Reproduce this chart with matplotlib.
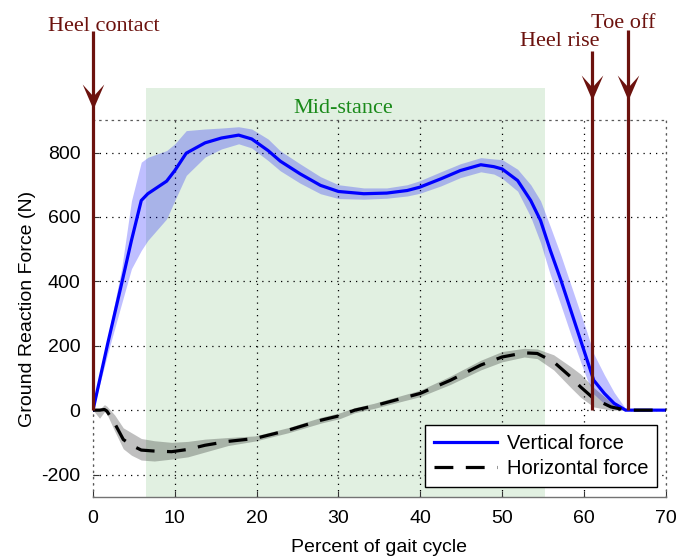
import matplotlib.pyplot as plt
from matplotlib.path import Path
from matplotlib.patches import Rectangle
from matplotlib.lines import Line2D

# --- Data ---
vert_x = [0, 1.8, 3.5, 4.7, 5.9, 6.7, 9.0, 10.0, 11.4, 13.7, 15.7, 17.8, 19.4, 21.4,
          22.9, 25.3, 27.8, 30.0, 33.1, 35.9, 38.4, 39.9, 42.5, 44.9, 47.4, 49.0,
          50.0, 51.9, 53.5, 54.7, 55.9, 57.2, 58.4, 59.6, 60.4, 61.2, 62.5, 63.7, 65.1, 70]
vert_mean = [0, 207, 393, 527, 651, 672, 711, 744, 798, 830, 845, 854, 842, 806,
             773, 734, 698, 679, 672, 674, 682, 692, 718, 744, 762, 756,
             749, 713, 651, 589, 496, 403, 310, 217, 155, 93, 52, 21, 0, 0]
vert_upper = [0, 225, 440, 650, 770, 785, 806, 827, 868, 873, 876, 880, 873, 842,
              805, 765, 725, 700, 690, 690, 700, 712, 740, 765, 784, 780,
              778, 748, 700, 650, 570, 480, 390, 300, 240, 175, 110, 55, 5, 0]
vert_lower = [0, 176, 331, 439, 496, 527, 594, 651, 729, 786, 811, 827, 814, 775,
              743, 705, 672, 657, 655, 658, 665, 673, 696, 722, 740, 733,
              720, 680, 600, 520, 420, 325, 235, 150, 95, 50, 20, 5, 0, 0]

horiz_x = [0, 0.8, 1.4, 1.7, 2.65, 3.7, 4.7, 5.9, 7.5, 9.6, 11.6, 13.7, 16.5, 19.8,
           23.9, 27.9, 30.2, 32.0, 34.3, 40.0, 43.7, 47.4, 50.0, 52.7, 54.3, 56.3,
           58.4, 59.6, 61.2, 63.3, 65.2, 70]
horiz_mean = [0, 0, 2, -3, -41, -91, -109, -124, -127, -129, -122, -109, -97, -88,
              -62, -31, -17, 0, 13, 52, 93, 140, 165, 178, 176, 150,
              103, 72, 36, 10, 0, 0]
horiz_upper = [0, 3, 17, 12, -15, -55, -70, -88, -95, -100, -97, -90, -85, -80,
               -54, -22, -8, 8, 21, 62, 106, 155, 182, 192, 190, 172,
               135, 112, 70, 25, 0, 0]
horiz_lower = [0, -25, -5, -12, -65, -120, -140, -155, -158, -152, -145, -130, -110, -96,
               -70, -40, -26, -8, 5, 42, 80, 125, 150, 165, 160, 125,
               70, 40, 10, 0, 0, 0]

event_names = ['Heel contact', 'Heel rise', 'Toe off']
event_x = [0, 61.0, 65.4]
event_top = [1176, 1116, 1181]
event_tip = [936, 964, 964]

stance_start, stance_end = 6.5, 55.3

x_ticks = [0, 10, 20, 30, 40, 50, 60, 70]
y_ticks = [-200, 0, 200, 400, 600, 800]

# --- Plotting ---
plt.rcParams['font.family'] = ['Liberation Sans', 'DejaVu Sans']
plt.rcParams['axes.unicode_minus'] = False
brown = '#6c120e'
grid_style = (0, (1, 4))

fig = plt.figure(figsize=(6.91, 5.58), dpi=100)
ax = fig.add_axes([93 / 691, 1 - 497.1 / 558, 572.7 / 691, 376.8 / 558])
ax.set_xlim(0, 70)
ax.set_ylim(-270, 900)
ax.set_axisbelow(True)

# mid-stance shading (reaches above the axes)
ax.add_patch(Rectangle((stance_start, -270), stance_end - stance_start, 1270,
                       facecolor='#e1f0e1', edgecolor='none', zorder=0, clip_on=False))
ax.text((stance_start + stance_end) / 2 - 0.3, 923, 'Mid-stance', color='#1a8a1a',
        family='Liberation Serif', fontsize=16, ha='center', va='baseline')

ax.grid(True, color='black', linestyle=grid_style, linewidth=0.9)

# bands and mean curves
ax.fill_between(vert_x, vert_lower, vert_upper, color='blue', alpha=0.25, lw=0, zorder=2)
ax.fill_between(horiz_x, horiz_lower, horiz_upper, color='black', alpha=0.25, lw=0, zorder=2)
ax.plot(vert_x, vert_mean, color='blue', lw=2.3, zorder=3, solid_joinstyle='round')
ax.plot(horiz_x, horiz_mean, color='black', lw=2.3, dashes=(5.9, 3.9), zorder=3)

# gait events: shaft + barbed arrow head
head = Path([(0, 0), (10.8, 25), (0, 13), (-10.8, 25), (0, 0)],
            [Path.MOVETO, Path.LINETO, Path.LINETO, Path.LINETO, Path.CLOSEPOLY])
ax.vlines(event_x, 0, event_top, colors=brown, lw=2.3, zorder=5, clip_on=False)
ax.plot(event_x, event_tip, linestyle='none', marker=head, markersize=36,
        color=brown, mew=0, zorder=6, clip_on=False)
label_pos = [(1.3, 1178), (57.1, 1132), (64.85, 1187)]
for name, (lx, ly) in zip(event_names, label_pos):
    ax.text(lx, ly, name, color=brown, family='Liberation Serif', fontsize=16,
            ha='center', va='baseline')

# axes styling
for side in ['top', 'right', 'left']:
    ax.spines[side].set_linestyle(grid_style)
    ax.spines[side].set_linewidth(0.9)
    ax.spines[side].set_color('0.35')
ax.spines['bottom'].set_color('0.45')
ax.spines['bottom'].set_linewidth(1.0)
ax.set_xticks(x_ticks)
ax.set_yticks(y_ticks)
ax.tick_params(direction='in', length=4, width=0.8, color='0.2', labelsize=14, pad=9)
ax.set_xlabel('Percent of gait cycle', fontsize=14, labelpad=9)
ax.set_ylabel('Ground Reaction Force (N)', fontsize=14, labelpad=4)

handles = [Line2D([], [], color='blue', lw=2.3),
           Line2D([], [], color='black', lw=2.3, dashes=(5.9, 3.9))]
leg = ax.legend(handles, ['Vertical force', 'Horizontal force'], loc='lower right',
                bbox_to_anchor=(0.9853, 0.026), borderaxespad=0, fontsize=14.5,
                fancybox=False, framealpha=1, edgecolor='black', handlelength=3.1,
                handletextpad=0.5, labelspacing=0.3, borderpad=0.45)
leg.get_frame().set_linewidth(1.0)
leg.set_zorder(10)

fig.savefig('out.png', dpi=100)
